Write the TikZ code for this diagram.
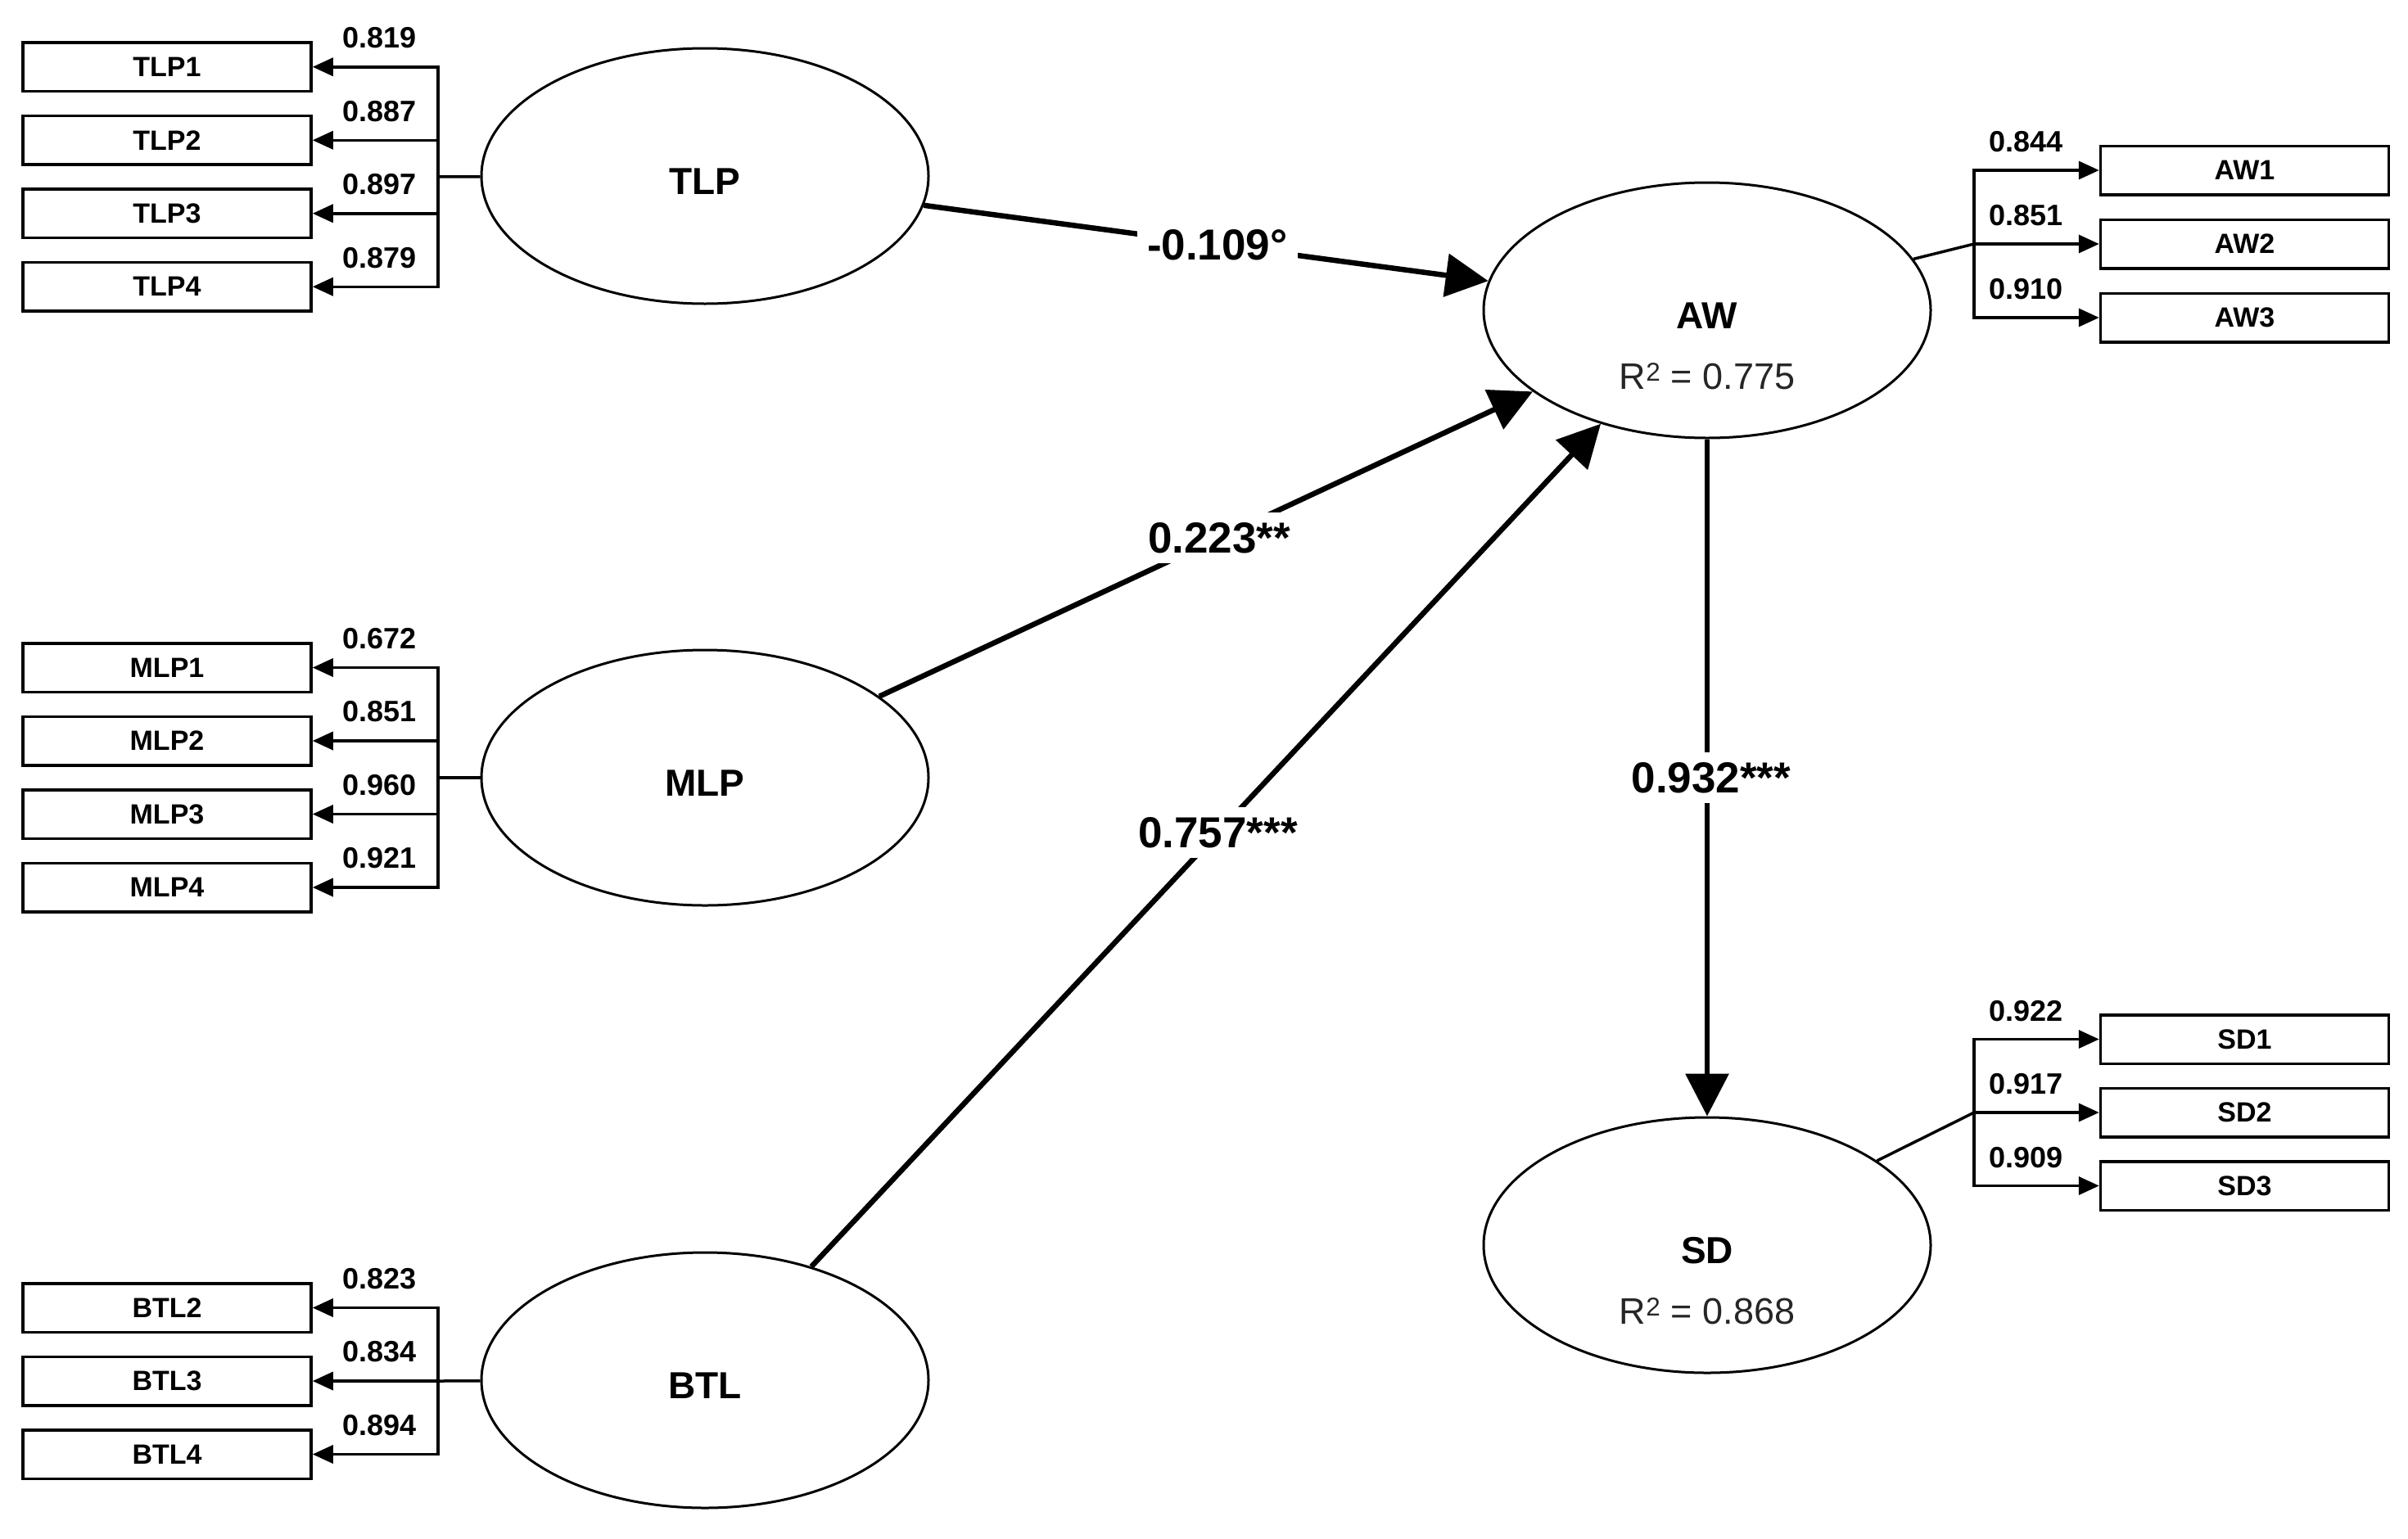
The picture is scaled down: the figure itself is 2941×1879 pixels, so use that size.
\documentclass[tikz,border=0pt]{standalone}
\usepackage{fontspec}
\setmainfont{Liberation Sans}
\usetikzlibrary{shapes.geometric,arrows.meta}
\begin{document}
\begin{tikzpicture}[x=1pt,y=-1pt,
  lat/.style={ellipse, draw, line width=3pt, minimum width=546pt, minimum height=312pt, inner sep=0pt},
  ind/.style={rectangle, draw, line width=3.5pt, minimum width=352pt, minimum height=59.5pt, inner sep=0pt, font=\fontsize{34}{37}\selectfont\bfseries},
  loadarr/.style={line width=3.5pt, -{Triangle[length=25pt,width=22pt]}},
  lnk/.style={line width=3.5pt},
  struct/.style={line width=6.5pt, -{Triangle[length=52pt,width=52pt]}},
  pl/.style={fill=white, inner sep=12pt, font=\fontsize{53}{58}\selectfont\bfseries},
  ll/.style={font=\fontsize{36}{40}\selectfont\bfseries, inner sep=0pt},
  latname/.style={font=\fontsize{46}{50}\selectfont\bfseries, anchor=base, inner sep=0pt},
  rsq/.style={font=\fontsize{45}{50}\selectfont, anchor=base, inner sep=0pt, text=black!85}]
\useasboundingbox (0,0) rectangle (2941,1879);

% latent variables
\node[lat] (TLP) at (861,215) {};
\node[latname] (tTLP) at (861,237) {TLP};
\node[lat] (MLP) at (861,950) {};
\node[latname] (tMLP) at (861,972) {MLP};
\node[lat] (BTL) at (861,1686) {};
\node[latname] (tBTL) at (861,1708) {BTL};
\node[lat] (AW) at (2085,379) {};
\node[latname] (tAW) at (2085,401) {AW};
\node[rsq] (rAW) at (2085,475) {R\textsuperscript{2} = 0.775};
\node[lat] (SD) at (2085,1521) {};
\node[latname] (tSD) at (2085,1543) {SD};
\node[rsq] (rSD) at (2085,1617) {R\textsuperscript{2} = 0.868};

% junctions
\coordinate (jTLP) at (535,216);
\coordinate (jMLP) at (535,950);
\coordinate (jBTL) at (535,1687);
\coordinate (jAW) at (2411,298);
\coordinate (jSD) at (2411,1359);

% indicators
\node[ind] (TLP1) at (204,81.75) {TLP1};
\node[ind] (TLP2) at (204,171.25) {TLP2};
\node[ind] (TLP3) at (204,260.75) {TLP3};
\node[ind] (TLP4) at (204,350.25) {TLP4};
\node[ind] (MLP1) at (204,815.5) {MLP1};
\node[ind] (MLP2) at (204,905) {MLP2};
\node[ind] (MLP3) at (204,994.5) {MLP3};
\node[ind] (MLP4) at (204,1084) {MLP4};
\node[ind] (BTL2) at (204,1597.5) {BTL2};
\node[ind] (BTL3) at (204,1687) {BTL3};
\node[ind] (BTL4) at (204,1776.5) {BTL4};
\node[ind] (AW1) at (2741.5,208) {AW1};
\node[ind] (AW2) at (2741.5,298) {AW2};
\node[ind] (AW3) at (2741.5,388) {AW3};
\node[ind] (SD1) at (2741.5,1269.5) {SD1};
\node[ind] (SD2) at (2741.5,1359) {SD2};
\node[ind] (SD3) at (2741.5,1448.5) {SD3};

% outer loadings, left
\draw[lnk] (TLP) -- (jTLP);
\draw[loadarr] (jTLP) |- node[ll, pos=0.75, above=21pt, xshift=5pt] {0.819} (TLP1.east);
\draw[loadarr] (jTLP) |- node[ll, pos=0.75, above=21pt, xshift=5pt] {0.887} (TLP2.east);
\draw[loadarr] (jTLP) |- node[ll, pos=0.75, above=21pt, xshift=5pt] {0.897} (TLP3.east);
\draw[loadarr] (jTLP) |- node[ll, pos=0.75, above=21pt, xshift=5pt] {0.879} (TLP4.east);

\draw[lnk] (MLP) -- (jMLP);
\draw[loadarr] (jMLP) |- node[ll, pos=0.75, above=21pt, xshift=5pt] {0.672} (MLP1.east);
\draw[loadarr] (jMLP) |- node[ll, pos=0.75, above=21pt, xshift=5pt] {0.851} (MLP2.east);
\draw[loadarr] (jMLP) |- node[ll, pos=0.75, above=21pt, xshift=5pt] {0.960} (MLP3.east);
\draw[loadarr] (jMLP) |- node[ll, pos=0.75, above=21pt, xshift=5pt] {0.921} (MLP4.east);

\draw[lnk] (BTL) -- (jBTL);
\draw[loadarr] (jBTL) |- node[ll, pos=0.75, above=21pt, xshift=5pt] {0.823} (BTL2.east);
\draw[loadarr] (jBTL) |- node[ll, pos=0.75, above=21pt, xshift=5pt] {0.834} (BTL3.east);
\draw[loadarr] (jBTL) |- node[ll, pos=0.75, above=21pt, xshift=5pt] {0.894} (BTL4.east);

% outer loadings, right
\draw[lnk] (AW) -- (jAW);
\draw[loadarr] (jAW) |- node[ll, pos=0.75, above=20pt, xshift=-13pt] {0.844} (AW1.west);
\draw[loadarr] (jAW) |- node[ll, pos=0.75, above=20pt, xshift=-13pt] {0.851} (AW2.west);
\draw[loadarr] (jAW) |- node[ll, pos=0.75, above=20pt, xshift=-13pt] {0.910} (AW3.west);

\draw[lnk] (SD) -- (jSD);
\draw[loadarr] (jSD) |- node[ll, pos=0.75, above=20pt, xshift=-13pt] {0.922} (SD1.west);
\draw[loadarr] (jSD) |- node[ll, pos=0.75, above=20pt, xshift=-13pt] {0.917} (SD2.west);
\draw[loadarr] (jSD) |- node[ll, pos=0.75, above=20pt, xshift=-13pt] {0.909} (SD3.west);

% structural paths
\draw[struct] (TLP) -- node[pl, pos=0.52] {-0.109°} (AW);
\draw[struct] (MLP) -- node[pl, pos=0.52] {0.223**} (AW);
\draw[struct] (BTL) -- node[pl, pos=0.515] {0.757***} (AW);
\draw[struct] (AW) -- node[pl, pos=0.5, xshift=5pt] {0.932***} (SD);
\end{tikzpicture}
\end{document}
